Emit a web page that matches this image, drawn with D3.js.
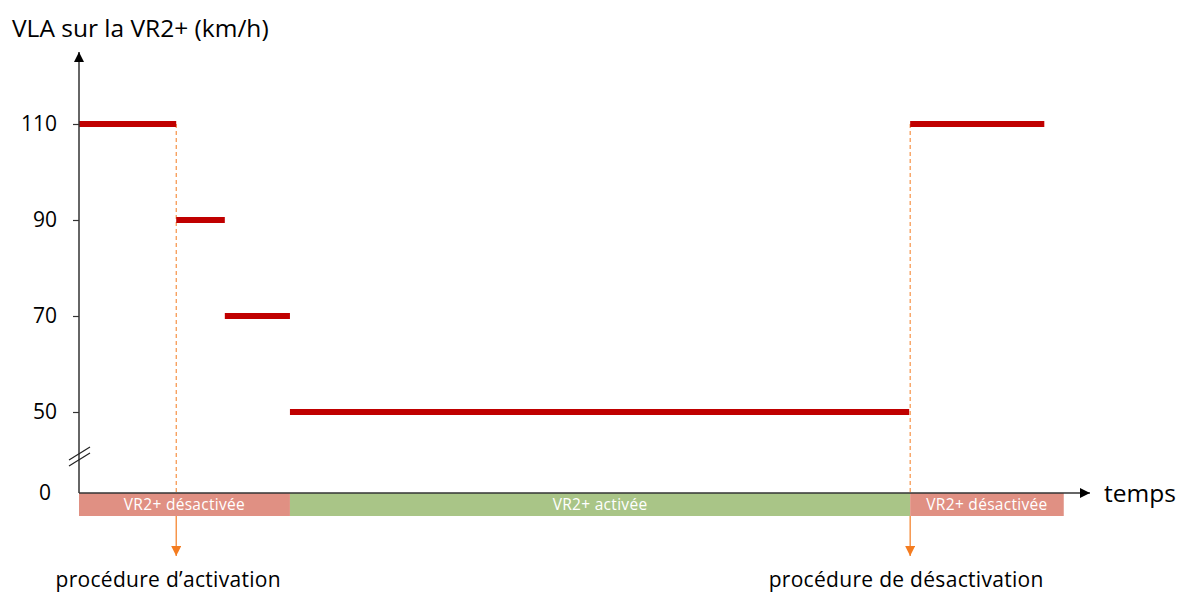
<!DOCTYPE html>
<html>
<head>
<meta charset="utf-8">
<script src="https://cdn.jsdelivr.net/npm/d3@7"></script>
<style>
  body { margin: 0; background: #fff; }
  svg { display: block; font-family: "Open Sans", "Noto Sans", sans-serif; }
</style>
</head>
<body>
<svg id="chart" width="1183" height="592"></svg>
<script>
// Speed limit (VLA) steps on the VR2+ lane over time
const speedSteps = [
  { start: 0,    end: 10,   speed: 110 },
  { start: 10,   end: 15,   speed: 90 },
  { start: 15,   end: 21.7, speed: 70 },
  { start: 21.7, end: 85.4, speed: 50 },
  { start: 85.5, end: 99.3, speed: 110 }
];
// Lane status periods
const lanePhases = [
  { start: 0,    end: 21.7,  label: "VR2+ désactivée", active: false },
  { start: 21.7, end: 85.5,  label: "VR2+ activée",    active: true },
  { start: 85.5, end: 101.3, label: "VR2+ désactivée", active: false }
];
// Procedure markers
const procedures = [
  { t: 10,   speed: 110, label: "procédure d’activation",     shift: -8 },
  { t: 85.5, speed: 110, label: "procédure de désactivation", shift: -4 }
];
const yTicks = [50, 70, 90, 110];
const timeMax = 104;

const svg = d3.select("#chart");
const x0 = 79, xEnd = 1090, yAxisZero = 493;

const x = d3.scaleLinear().domain([0, timeMax]).range([x0, xEnd]);
const y = d3.scaleLinear().domain([50, 110]).range([412, 124]);

const defs = svg.append("defs");
defs.append("marker")
  .attr("id", "arrowBlack").attr("viewBox", "0 0 10 10")
  .attr("refX", 10).attr("refY", 5).attr("markerWidth", 10).attr("markerHeight", 10)
  .attr("markerUnits", "userSpaceOnUse").attr("orient", "auto")
  .append("path").attr("d", "M0,0 L10,5 L0,10 z").attr("fill", "#000");
defs.append("marker")
  .attr("id", "arrowOrange").attr("viewBox", "0 0 10 10")
  .attr("refX", 10).attr("refY", 5).attr("markerWidth", 10).attr("markerHeight", 10)
  .attr("markerUnits", "userSpaceOnUse").attr("orient", "auto")
  .append("path").attr("d", "M0,0 L10,5 L0,10 z").attr("fill", "#F47C20");

// Title
svg.append("text").attr("x", 12).attr("y", 37)
  .attr("font-size", 24.5).attr("fill", "#000")
  .text("VLA sur la VR2+ (km/h)");

// Lane status bands
const bandTop = yAxisZero, bandH = 23;
svg.selectAll("rect.phase").data(lanePhases).join("rect")
  .attr("class", "phase")
  .attr("x", d => x(d.start)).attr("y", bandTop)
  .attr("width", d => x(d.end) - x(d.start)).attr("height", bandH)
  .attr("fill", d => d.active ? "#A9C587" : "#E09083");
svg.selectAll("text.phase").data(lanePhases).join("text")
  .attr("class", "phase")
  .attr("x", d => (x(d.start) + x(d.end)) / 2).attr("y", bandTop + bandH / 2 + 5.5)
  .attr("text-anchor", "middle").attr("font-size", 15.5).attr("letter-spacing", 0.3)
  .attr("fill", "#fff")
  .text(d => d.label);

// Procedure markers: dashed guide above the axis, arrow below the band
svg.selectAll("line.guide").data(procedures).join("line")
  .attr("class", "guide")
  .attr("x1", d => x(d.t)).attr("x2", d => x(d.t))
  .attr("y1", d => y(d.speed)).attr("y2", yAxisZero)
  .attr("stroke", "#F47C20").attr("stroke-width", 1).attr("stroke-dasharray", "4,3");
svg.selectAll("line.proc").data(procedures).join("line")
  .attr("class", "proc")
  .attr("x1", d => x(d.t)).attr("x2", d => x(d.t))
  .attr("y1", bandTop + bandH).attr("y2", 556)
  .attr("stroke", "#F47C20").attr("stroke-width", 1.2)
  .attr("marker-end", "url(#arrowOrange)");
svg.selectAll("text.proc").data(procedures).join("text")
  .attr("class", "proc")
  .attr("x", d => x(d.t) + d.shift).attr("y", 587)
  .attr("text-anchor", "middle").attr("font-size", 21).attr("letter-spacing", 0.3)
  .attr("fill", "#000")
  .text(d => d.label);

// Speed limit steps
svg.selectAll("line.step").data(speedSteps).join("line")
  .attr("class", "step")
  .attr("x1", d => x(d.start)).attr("x2", d => x(d.end))
  .attr("y1", d => y(d.speed)).attr("y2", d => y(d.speed))
  .attr("stroke", "#C00000").attr("stroke-width", 6);

// Y axis
svg.append("line")
  .attr("x1", x0).attr("x2", x0).attr("y1", yAxisZero).attr("y2", 52)
  .attr("stroke", "#333").attr("stroke-width", 1.5)
  .attr("marker-end", "url(#arrowBlack)");
const yAxis = d3.axisLeft(y).tickValues(yTicks).tickSize(6).tickPadding(16);
const gy = svg.append("g").attr("transform", `translate(${x0},0)`).call(yAxis);
gy.select(".domain").remove();
gy.selectAll(".tick line").attr("stroke", "#333").attr("stroke-width", 1.2);
gy.selectAll(".tick text").attr("font-size", 21).attr("fill", "#000")
  .attr("font-family", "\"Open Sans\", sans-serif");
svg.append("text").attr("x", 51).attr("y", yAxisZero).attr("dy", "0.35em")
  .attr("text-anchor", "end").attr("font-size", 21).attr("fill", "#000").text("0");

// Axis break marks
[0, 6].forEach(off => {
  svg.append("line")
    .attr("x1", 69).attr("y1", 466 - off).attr("x2", 90).attr("y2", 453 - off)
    .attr("stroke", "#222").attr("stroke-width", 1.2);
});

// X axis (time)
svg.append("line")
  .attr("x1", x0).attr("x2", xEnd).attr("y1", yAxisZero).attr("y2", yAxisZero)
  .attr("stroke", "#333").attr("stroke-width", 1.5)
  .attr("marker-end", "url(#arrowBlack)");
svg.append("text").attr("x", 1104).attr("y", yAxisZero).attr("dy", "0.35em")
  .attr("font-size", 24.5).attr("fill", "#000").text("temps");
</script>
</body>
</html>
